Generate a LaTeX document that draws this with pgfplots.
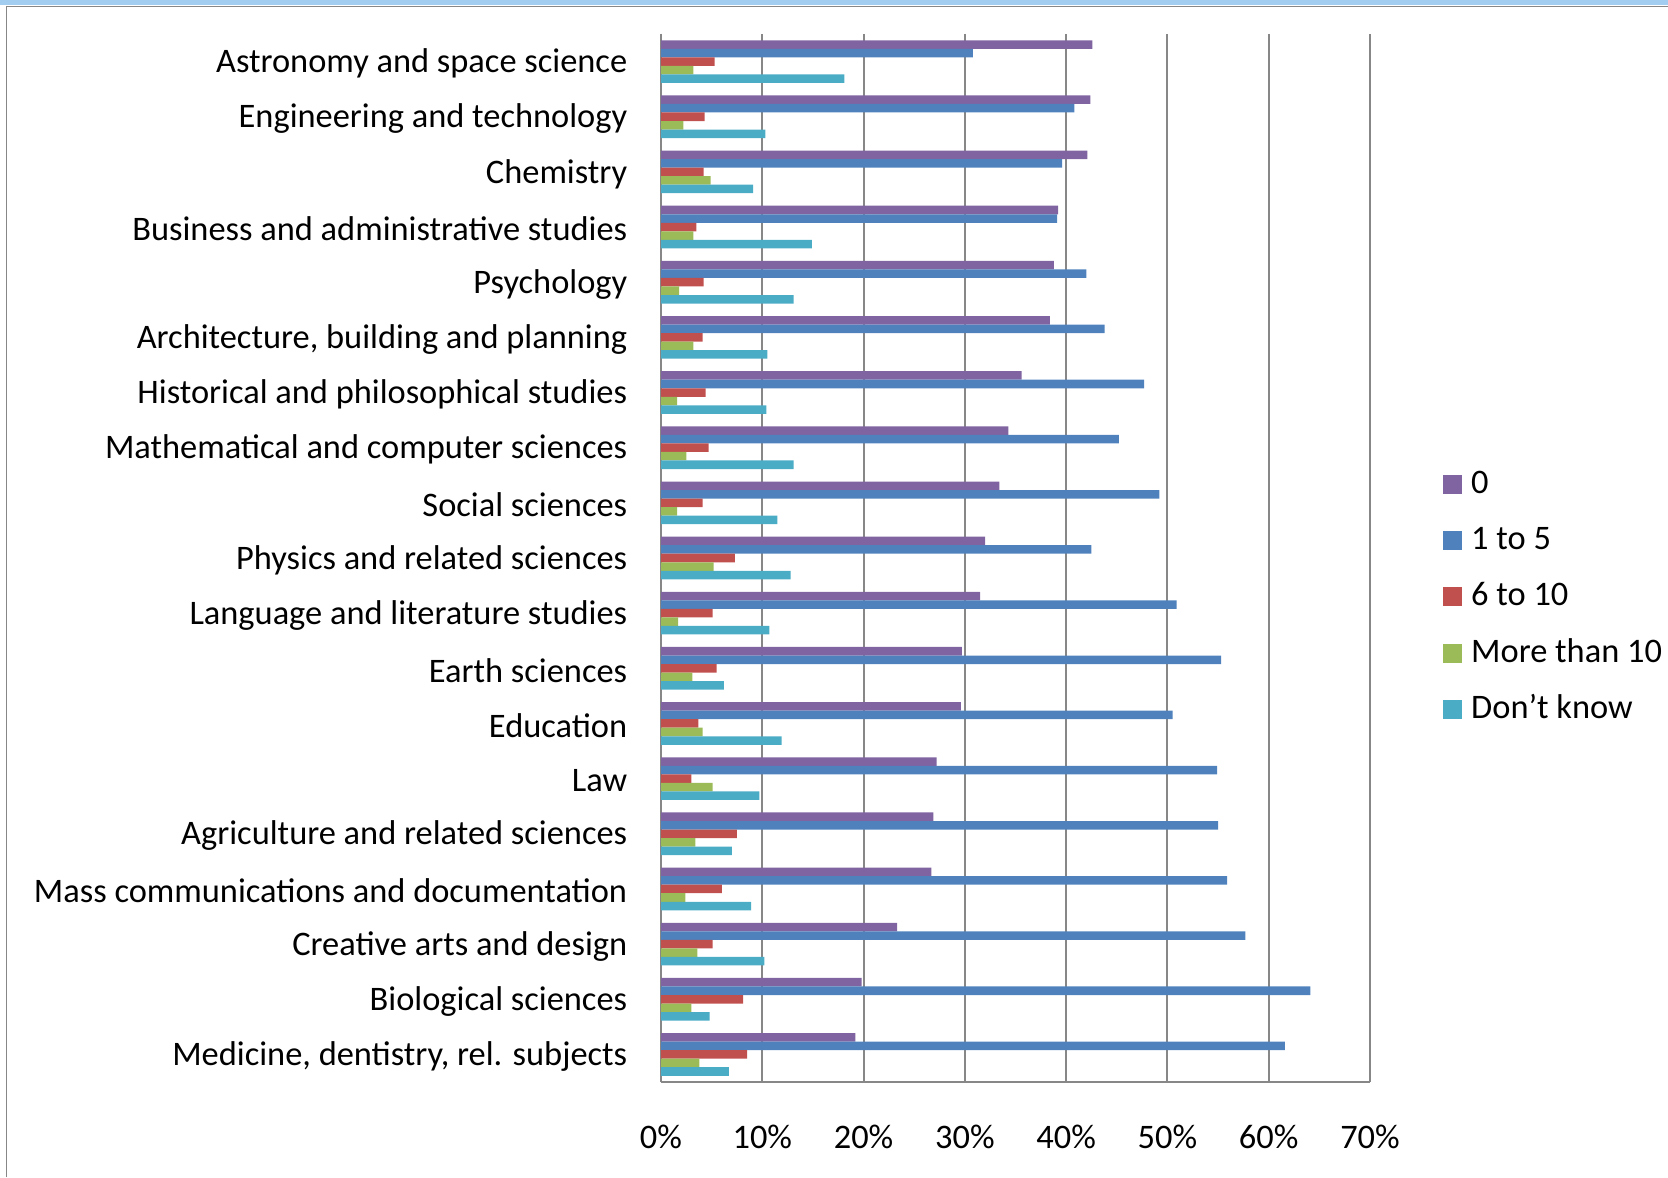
\documentclass[border=0pt]{standalone}
\usepackage{pgfplots}
\pgfplotsset{compat=1.18}
\usepackage{pgfplotstable}
\usepackage{fontspec}
\setmainfont{Carlito}
\definecolor{cA}{HTML}{8064A2}
\definecolor{cB}{HTML}{4F81BD}
\definecolor{cC}{HTML}{C0504D}
\definecolor{cD}{HTML}{9BBB59}
\definecolor{cE}{HTML}{4BACC6}
\definecolor{gridgray}{HTML}{878787}
\definecolor{bandblue}{HTML}{A3CDF0}
\pgfplotstableread{
idx v0 v1 v2 v3 v4
0 42.6 30.8 5.3 3.2 18.1
1 42.4 40.8 4.3 2.2 10.3
2 42.1 39.6 4.2 4.9 9.1
3 39.2 39.1 3.5 3.2 14.9
4 38.8 42.0 4.2 1.8 13.1
5 38.4 43.8 4.1 3.2 10.5
6 35.6 47.7 4.4 1.6 10.4
7 34.3 45.2 4.7 2.5 13.1
8 33.4 49.2 4.1 1.6 11.5
9 32.0 42.5 7.3 5.2 12.8
10 31.5 50.9 5.1 1.7 10.7
11 29.7 55.3 5.5 3.1 6.2
12 29.6 50.5 3.7 4.1 11.9
13 27.2 54.9 3.0 5.1 9.7
14 26.9 55.0 7.5 3.4 7.0
15 26.7 55.9 6.0 2.4 8.9
16 23.3 57.7 5.1 3.6 10.2
17 19.8 64.1 8.1 3.0 4.8
18 19.2 61.6 8.5 3.8 6.7
}\data
\begin{document}
\begin{tikzpicture}
\useasboundingbox (0,0) rectangle (834pt,588.5pt);
\fill[bandblue] (0,586pt) rectangle (834pt,588.5pt);
\draw[gridgray,line width=0.8pt] (3.25pt,0) -- (3.25pt,585.3pt) -- (834pt,585.3pt);
\begin{axis}[
  at={(330.5pt,47.5pt)}, anchor=south west,
  scale only axis, width=354.5pt, height=524pt,
  xbar, bar width=4.265pt,
  xmin=0, xmax=70, ymin=-0.5, ymax=18.5,
  y dir=reverse,
  axis x line*=bottom, axis y line*=left,
  axis line style={gridgray, line width=1pt},
  major tick length=0pt,
  xmajorgrids, grid style={gridgray, line width=1pt},
  xtick={0,10,...,70},
  xticklabels={0\%,10\%,20\%,30\%,40\%,50\%,60\%,70\%},
  ytick={0,...,18},
  yticklabels={Astronomy and space science, Engineering and technology, Chemistry, Business and administrative studies, Psychology, {Architecture, building and planning}, Historical and philosophical studies, Mathematical and computer sciences, Social sciences, Physics and related sciences, Language and literature studies, Earth sciences, Education, Law, Agriculture and related sciences, Mass communications and documentation, Creative arts and design, Biological sciences, {Medicine, dentistry, rel. subjects}},
  tick label style={font=\fontsize{17.2}{20}\selectfont, text=black},
  yticklabel style={anchor=east, inner sep=0pt, xshift=-16.7pt, yshift=-1pt},
  xticklabel style={anchor=center, inner sep=0pt, yshift=-27.5pt},
  legend cell align=left,
  legend style={at={(1.1027,0.4628)}, anchor=west, draw=none, fill=none,
    inner sep=0pt, row sep=11.2pt, column sep=4.5pt,
    font=\fontsize{17.2}{20}\selectfont,
    nodes={inner sep=0pt, text height=13pt, text depth=4pt}},
  legend image code/.code={\fill[#1] (0pt,-4.75pt) rectangle (9.5pt,4.75pt);},
]
\addplot[fill=cA, draw=none, bar shift=8.53pt] table[x=v0, y=idx] {\data};
\addplot[fill=cB, draw=none, bar shift=4.265pt] table[x=v1, y=idx] {\data};
\addplot[fill=cC, draw=none, bar shift=0pt] table[x=v2, y=idx] {\data};
\addplot[fill=cD, draw=none, bar shift=-4.265pt] table[x=v3, y=idx] {\data};
\addplot[fill=cE, draw=none, bar shift=-8.53pt] table[x=v4, y=idx] {\data};
\legend{0, 1 to 5, 6 to 10, More than 10, Don’t know}
\end{axis}
\end{tikzpicture}
\end{document}
